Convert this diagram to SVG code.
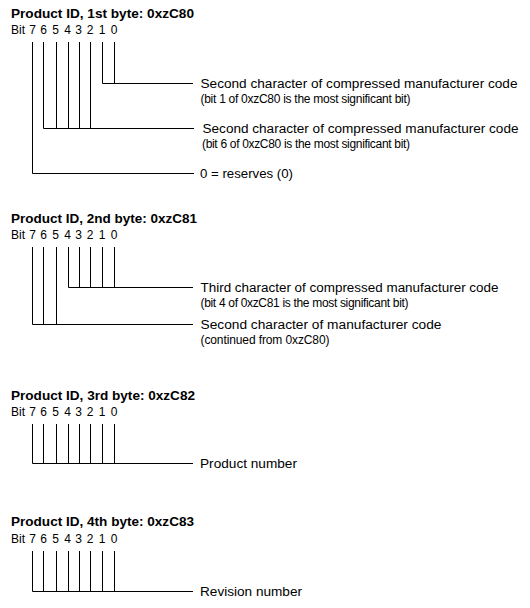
<svg xmlns="http://www.w3.org/2000/svg" width="530" height="608" viewBox="0 0 530 608">
<style>
.t{font-family:"Liberation Sans",Arial,sans-serif;font-size:12px;font-weight:bold;fill:#000}
.b{font-family:"Liberation Sans",Arial,sans-serif;font-size:12px;fill:#000}
.d{text-anchor:middle}
.l{fill:none;stroke:#000;stroke-width:1}
</style>
<rect width="530" height="608" fill="#fff"/>
<g id="byte1">
<text class="t" x="11" y="18" textLength="183" lengthAdjust="spacingAndGlyphs">Product ID, 1st byte: 0xzC80</text>
<text class="b" y="34"><tspan x="11">Bit</tspan><tspan class="d" x="32.5">7</tspan><tspan class="d" x="43.5">6</tspan><tspan class="d" x="55.5">5</tspan><tspan class="d" x="67.5">4</tspan><tspan class="d" x="78.5">3</tspan><tspan class="d" x="90">2</tspan><tspan class="d" x="102">1</tspan><tspan class="d" x="114">0</tspan></text>
<text class="b" x="200.5" y="87.5" textLength="317" lengthAdjust="spacingAndGlyphs">Second character of compressed manufacturer code</text>
<text class="b" x="200.5" y="102.5" textLength="210" lengthAdjust="spacing">(bit 1 of 0xzC80 is the most significant bit)</text>
<text class="b" x="202.5" y="132.5" textLength="316" lengthAdjust="spacingAndGlyphs">Second character of compressed manufacturer code</text>
<text class="b" x="202" y="147.5" textLength="208" lengthAdjust="spacing">(bit 6 of 0xzC80 is the most significant bit)</text>
<text class="b" x="200" y="177.5" textLength="93" lengthAdjust="spacingAndGlyphs">0 = reserves (0)</text>
</g>
<g id="byte2">
<text class="t" x="11" y="223" textLength="186" lengthAdjust="spacingAndGlyphs">Product ID, 2nd byte: 0xzC81</text>
<text class="b" y="239"><tspan x="11">Bit</tspan><tspan class="d" x="32.5">7</tspan><tspan class="d" x="43.5">6</tspan><tspan class="d" x="55.5">5</tspan><tspan class="d" x="67.5">4</tspan><tspan class="d" x="78.5">3</tspan><tspan class="d" x="90">2</tspan><tspan class="d" x="102">1</tspan><tspan class="d" x="114">0</tspan></text>
<text class="b" x="200.5" y="291.5" textLength="298" lengthAdjust="spacingAndGlyphs">Third character of compressed manufacturer code</text>
<text class="b" x="200.5" y="306.5" textLength="208" lengthAdjust="spacing">(bit 4 of 0xzC81 is the most significant bit)</text>
<text class="b" x="200.5" y="328.5" textLength="241" lengthAdjust="spacingAndGlyphs">Second character of manufacturer code</text>
<text class="b" x="200.5" y="343.5" textLength="129" lengthAdjust="spacing">(continued from 0xzC80)</text>
</g>
<g id="byte3">
<text class="t" x="11" y="400" textLength="184" lengthAdjust="spacingAndGlyphs">Product ID, 3rd byte: 0xzC82</text>
<text class="b" y="416"><tspan x="11">Bit</tspan><tspan class="d" x="32.5">7</tspan><tspan class="d" x="43.5">6</tspan><tspan class="d" x="55.5">5</tspan><tspan class="d" x="67.5">4</tspan><tspan class="d" x="78.5">3</tspan><tspan class="d" x="90">2</tspan><tspan class="d" x="102">1</tspan><tspan class="d" x="114">0</tspan></text>
<text class="b" x="200" y="467.5" textLength="97" lengthAdjust="spacingAndGlyphs">Product number</text>
</g>
<g id="byte4">
<text class="t" x="11" y="526" textLength="183" lengthAdjust="spacingAndGlyphs">Product ID, 4th byte: 0xzC83</text>
<text class="b" y="543"><tspan x="11">Bit</tspan><tspan class="d" x="32.5">7</tspan><tspan class="d" x="43.5">6</tspan><tspan class="d" x="55.5">5</tspan><tspan class="d" x="67.5">4</tspan><tspan class="d" x="78.5">3</tspan><tspan class="d" x="90">2</tspan><tspan class="d" x="102">1</tspan><tspan class="d" x="114">0</tspan></text>
<text class="b" x="200" y="595.5" textLength="102" lengthAdjust="spacingAndGlyphs">Revision number</text>
</g>
<g id="connectors" class="l">
<path d="M102.5 42V83.5M114.5 42V83.5M102.5 83.5H193"/>
<path d="M43.5 42V128.5M56.5 42V128.5M68.5 42V128.5M79.5 42V128.5M90.5 42V128.5M43.5 128.5H194"/>
<path d="M32.5 42V173.5H194"/>
<path d="M68.5 247V287.5M79.5 247V287.5M90.5 247V287.5M102.5 247V287.5M114.5 247V287.5M68.5 287.5H193"/>
<path d="M32.5 247V324.5M43.5 247V324.5M56.5 247V324.5M32.5 324.5H193"/>
<path d="M32.5 424V463.5M43.5 424V463.5M56.5 424V463.5M68.5 424V463.5M79.5 424V463.5M90.5 424V463.5M102.5 424V463.5M114.5 424V463.5M32.5 463.5H193"/>
<path d="M32.5 551V591.5M43.5 551V591.5M56.5 551V591.5M68.5 551V591.5M79.5 551V591.5M90.5 551V591.5M102.5 551V591.5M114.5 551V591.5M32.5 591.5H193"/>
</g>
</svg>
